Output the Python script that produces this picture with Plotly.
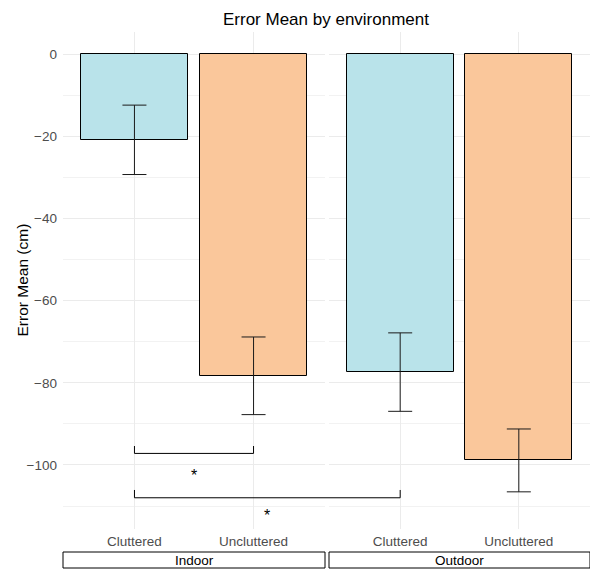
import plotly.graph_objects as go

# ---- data ----
conditions = ["Cluttered", "Uncluttered"]
environments = ["Indoor", "Outdoor"]
indoor_mean = [-20.85, -78.3]
indoor_se = [8.45, 9.45]
outdoor_mean = [-77.4, -98.9]
outdoor_se = [9.55, 7.65]
y_ticks = [0, -20, -40, -60, -80, -100]
y_tick_labels = ["0", "\u221220", "\u221240", "\u221260", "\u221280", "\u2212100"]

# significance brackets: (panel, category) pairs
sig_from = [("Indoor", "Cluttered"), ("Indoor", "Cluttered")]
sig_to = [("Indoor", "Uncluttered"), ("Outdoor", "Cluttered")]
sig_level = [-97.2, -108.0]
sig_tick = [1.8, 1.9]
sig_star_y = [-102.6, -112.4]
sig_label = ["*", "*"]

# ---- styling ----
FILL = {"Cluttered": "#B9E3EA", "Uncluttered": "#FAC79B"}
FONT = "Liberation Sans, Arial, Helvetica, sans-serif"
W, H = 590, 569
M = dict(l=63, r=0, t=32, b=40, autoexpand=False)
X_RANGE = [-0.6, 1.6]
Y_RANGE = [-115.6, 5.4]
plot_w = W - M["l"] - M["r"]
dom = {"Indoor": [0, 262 / plot_w], "Outdoor": [266 / plot_w, 1]}
axis_of = {"Indoor": ("x", "y"), "Outdoor": ("x2", "y2")}

fig = go.Figure()
for env, means, ses in [("Indoor", indoor_mean, indoor_se), ("Outdoor", outdoor_mean, outdoor_se)]:
    xa, ya = axis_of[env]
    fig.add_trace(go.Bar(
        x=conditions, y=means, width=0.9,
        marker=dict(color=[FILL[c] for c in conditions], line=dict(color="black", width=1)),
        error_y=dict(type="data", array=ses, visible=True, color="#1a1a1a", thickness=1, width=12),
        xaxis=xa, yaxis=ya, showlegend=False, hoverinfo="skip",
    ))


def to_paper(env, cat):
    idx = conditions.index(cat)
    d0, d1 = dom[env]
    frac = (idx - X_RANGE[0]) / (X_RANGE[1] - X_RANGE[0])
    return d0 + frac * (d1 - d0)


shapes = []
annotations = []
for (fe, fc), (te, tc), lvl, tk, sy, lab in zip(sig_from, sig_to, sig_level, sig_tick, sig_star_y, sig_label):
    x0 = to_paper(fe, fc)
    x1 = to_paper(te, tc)
    shapes.append(dict(type="line", xref="paper", yref="y", x0=x0, x1=x1, y0=lvl, y1=lvl,
                       line=dict(color="black", width=1)))
    for xx in (x0, x1):
        shapes.append(dict(type="line", xref="paper", yref="y", x0=xx, x1=xx, y0=lvl, y1=lvl + tk,
                           line=dict(color="black", width=1)))
    annotations.append(dict(text=lab, xref="paper", yref="y", x=(x0 + x1) / 2, y=sy,
                            showarrow=False, font=dict(size=16, color="black", family=FONT),
                            xanchor="center", yanchor="middle"))

# facet strips
plot_h = H - M["t"] - M["b"]
strip_top = -(552 - (H - M["b"])) / plot_h
strip_bot = -(568 - (H - M["b"])) / plot_h
for env in environments:
    xa = axis_of[env][0]
    shapes.append(dict(type="rect", xref=f"{xa} domain", yref="paper", x0=0, x1=1,
                       y0=strip_bot, y1=strip_top, line=dict(color="black", width=1),
                       fillcolor="white"))
    annotations.append(dict(text=env, xref=f"{xa} domain", yref="paper", x=0.5,
                            y=(strip_top + strip_bot) / 2, showarrow=False,
                            font=dict(size=13.5, color="black", family=FONT),
                            xanchor="center", yanchor="middle"))

# y-axis title (as rotated annotation, centred on panel)
annotations.append(dict(text="Error Mean (cm)", xref="paper", yref="paper", x=0, y=0.5,
                        xshift=22 - M["l"], textangle=-90, showarrow=False,
                        xanchor="center", yanchor="middle",
                        font=dict(size=15.5, color="black", family=FONT)))

grid = "#EBEBEB"
xcommon = dict(type="category", range=X_RANGE, showgrid=True, gridcolor=grid, gridwidth=1,
               showline=False, zeroline=False, ticks="", ticklabelstandoff=2, automargin=False,
               tickfont=dict(size=13.5, color="#4D4D4D", family=FONT))
ycommon = dict(range=Y_RANGE, showgrid=True, gridcolor=grid, gridwidth=1, zeroline=False,
               showline=False, ticks="", tickvals=y_ticks, automargin=False,
               minor=dict(tickvals=[-10, -30, -50, -70, -90, -110], showgrid=True,
                          gridcolor="#F2F2F2", gridwidth=1))

fig.update_layout(
    width=W, height=H, margin=M,
    paper_bgcolor="white", plot_bgcolor="white",
    font=dict(family=FONT, color="black"),
    bargap=0,
    title=dict(text="Error Mean by environment", x=(326 - M["l"]) / plot_w, xref="paper",
               y=1 - 19 / H, yref="container", xanchor="center", yanchor="middle",
               automargin=False,
               font=dict(size=17, color="black", family=FONT)),
    xaxis=dict(domain=dom["Indoor"], anchor="y", **xcommon),
    xaxis2=dict(domain=dom["Outdoor"], anchor="y2", **xcommon),
    yaxis=dict(anchor="x", ticktext=y_tick_labels, ticklabelstandoff=5,
               tickfont=dict(size=13.5, color="#4D4D4D", family=FONT),
               **ycommon),
    yaxis2=dict(anchor="x2", matches="y", showticklabels=False, **ycommon),
    shapes=shapes, annotations=annotations,
)

fig.write_html("out.html", config={"displayModeBar": False},
               post_script="document.body.style.margin='0';document.body.style.overflow='hidden';")
